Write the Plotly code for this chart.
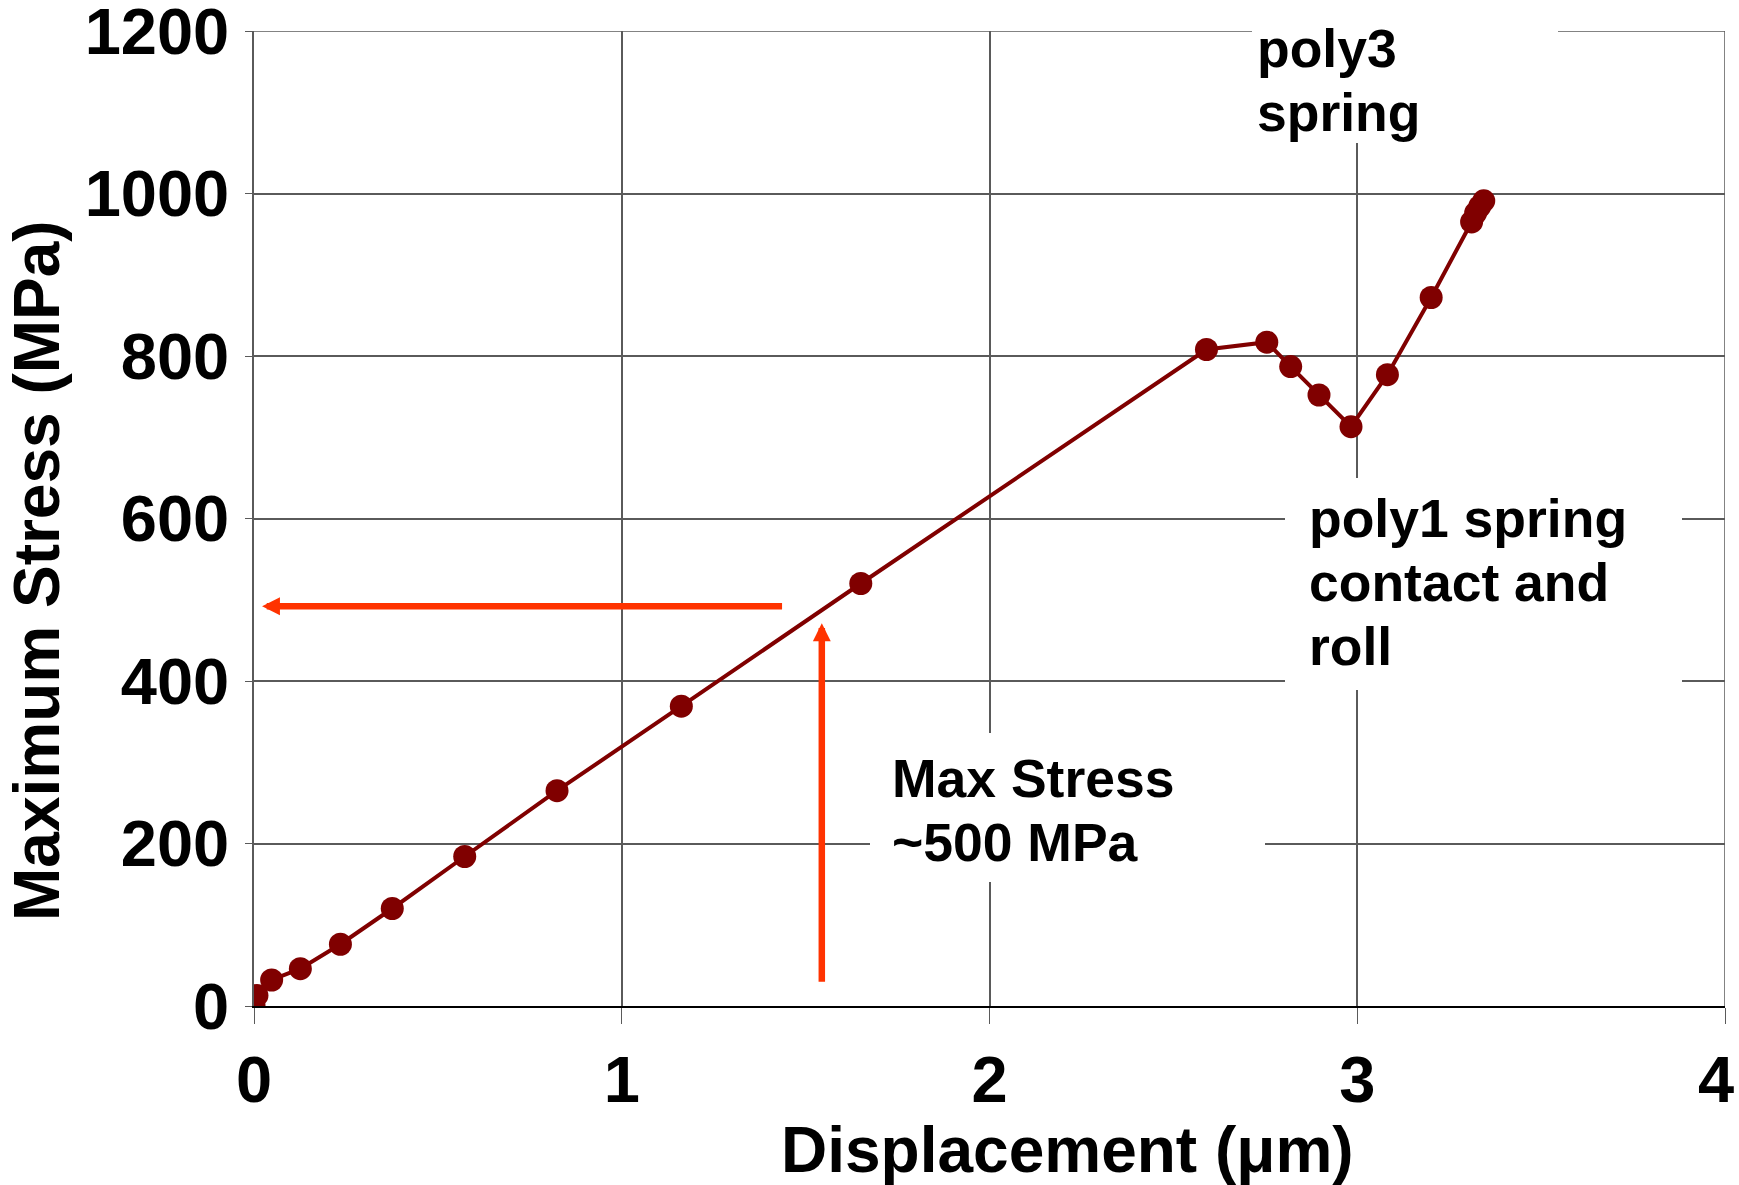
import plotly.graph_objects as go

# Maximum stress vs. displacement of the spring (one simulation run)
displacement_um = [0.0, 0.008, 0.048, 0.126, 0.235, 0.376, 0.573, 0.824, 1.162, 1.650,
                   2.590, 2.754, 2.819, 2.896, 2.983, 3.082, 3.201, 3.311, 3.322, 3.333, 3.344]
max_stress_mpa = [0, 13, 32, 46, 76, 120, 184, 265, 369, 520,
                  808, 817, 787, 752, 713, 777, 872, 965, 976, 984, 991]

x_ticks = [0, 1, 2, 3, 4]
x_tick_text = ["0", "1", "2", "3", "4\u00a0"]
y_ticks = [0, 200, 400, 600, 800, 1000, 1200]

# Arrows marking the ~500 MPa limit
limit_level_mpa = 492
limit_arrow_start_um = 1.44
limit_arrow_end_um = 0.022
rise_arrow_um = 1.544
rise_arrow_from_mpa = 28
rise_arrow_to_mpa = 471

W, H = 1739, 1185
ML, MR, MT, MB = 254, 14, 31, 179
PW = W - ML - MR
PH = H - MT - MB


def paper_x(px):
    return (px - ML) / PW


def paper_y(py):
    return (H - MB - py) / PH


FONT = "Liberation Sans"
RED = "#FF3300"
MAROON = "#800000"
GRID = "#5a5a5a"
LINE_PITCH = 64

fig = go.Figure()
fig.add_trace(go.Scatter(
    x=displacement_um, y=max_stress_mpa, mode="lines+markers",
    line=dict(color=MAROON, width=4),
    marker=dict(color=MAROON, size=23),
    showlegend=False,
))

shapes = []
# Closing grid lines along the top and right edges of the plot
shapes.append(dict(type="line", xref="x", yref="y", x0=x_ticks[0], x1=x_ticks[-1],
                   y0=y_ticks[-1], y1=y_ticks[-1], line=dict(color=GRID, width=1.5),
                   layer="below"))
shapes.append(dict(type="line", xref="x", yref="y", x0=x_ticks[-1], x1=x_ticks[-1],
                   y0=y_ticks[0], y1=y_ticks[-1], line=dict(color=GRID, width=1.5),
                   layer="below"))

# White label boxes that break the grid behind the notes
boxes = [(1252, 0, 1558, 143), (1285, 478, 1682, 690), (870, 733, 1265, 882)]
for x0, y0, x1, y1 in boxes:
    shapes.append(dict(type="rect", xref="paper", yref="paper",
                       x0=paper_x(x0), x1=paper_x(x1), y0=paper_y(y1), y1=paper_y(y0),
                       fillcolor="white", line=dict(width=0), layer="above"))

# Notes: lines of text, left edge and top of the first line (pixels)
notes = [
    (["poly3", "spring"], 1256, 18),
    (["poly1 spring", "contact and", "roll"], 1308, 488),
    (["Max Stress", "~500 MPa"], 891, 748),
]
annotations = []
for lines, lx, ty in notes:
    for i, line in enumerate(lines):
        annotations.append(dict(
            text=line, xref="paper", yref="paper",
            x=paper_x(lx), y=paper_y(ty + i * LINE_PITCH),
            xanchor="left", yanchor="top", align="left", showarrow=False, borderpad=0,
            font=dict(family=FONT, size=53.5, color="black", weight="bold"),
        ))

arrow_style = dict(xref="x", yref="y", axref="x", ayref="y", text="", showarrow=True,
                   arrowhead=2, arrowsize=0.55, arrowwidth=6.5, arrowcolor=RED,
                   standoff=0, startstandoff=0, font=dict(size=1))
annotations.append(dict(x=limit_arrow_end_um, y=limit_level_mpa,
                        ax=limit_arrow_start_um, ay=limit_level_mpa, **arrow_style))
annotations.append(dict(x=rise_arrow_um, y=rise_arrow_to_mpa,
                        ax=rise_arrow_um, ay=rise_arrow_from_mpa, **arrow_style))

# Axis titles
annotations.append(dict(
    text="Displacement (μm)", xref="paper", yref="paper",
    x=paper_x(1067), y=paper_y(1150), xanchor="center", yanchor="middle", showarrow=False,
    font=dict(family=FONT, size=64, color="black", weight="bold"),
))
annotations.append(dict(
    text="Maximum Stress (MPa)", xref="paper", yref="paper", textangle=-90,
    x=paper_x(37), y=paper_y(571), xanchor="center", yanchor="middle", showarrow=False,
    font=dict(family=FONT, size=64, color="black", weight="bold"),
))

fig.update_layout(
    width=W, height=H,
    margin=dict(l=ML, r=MR, t=MT, b=MB, autoexpand=False),
    paper_bgcolor="white", plot_bgcolor="white",
    shapes=shapes, annotations=annotations,
    font=dict(family=FONT, color="black"),
)
fig.update_xaxes(
    range=[0, 4], tickvals=x_ticks, ticktext=x_tick_text,
    showgrid=True, gridcolor=GRID, gridwidth=1.5,
    zeroline=False, showline=True, linecolor="black", linewidth=1.5,
    ticks="outside", ticklen=16, tickcolor=GRID, ticklabeloverflow="allow",
    tickfont=dict(family=FONT, size=65, color="black", weight="bold"),
)
fig.update_yaxes(
    range=[0, 1200], tickvals=y_ticks, showgrid=True, gridcolor=GRID, gridwidth=1.5,
    zeroline=False, showline=True, linecolor=GRID, linewidth=1.5,
    ticks="outside", ticklen=7, tickcolor=GRID, ticklabeloverflow="allow",
    ticklabelstandoff=3,
    tickfont=dict(family=FONT, size=65, color="black", weight="bold"),
)

fig.write_html("out.html")
